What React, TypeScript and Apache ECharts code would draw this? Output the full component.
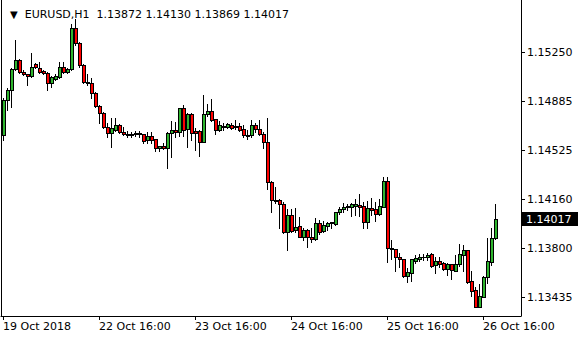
import React, { useEffect, useRef } from "react";
import * as echarts from "echarts";

const symbol = "EURUSD";
const period = "H1";

const opens = [
  1.14637, 1.14896, 1.1497, 1.15126, 1.15192, 1.15104, 1.15089, 1.15074, 1.15163, 1.15133,
  1.15111, 1.15096, 1.15022, 1.15052, 1.15067, 1.15141, 1.15104, 1.15126, 1.15429, 1.15318,
  1.15155, 1.1503, 1.15022, 1.14948, 1.14852, 1.148, 1.14697, 1.14652, 1.14674, 1.14711,
  1.1466, 1.14645, 1.14641, 1.14645, 1.14652, 1.14645, 1.146, 1.1463, 1.14605, 1.14539,
  1.14556, 1.14539, 1.1465, 1.14674, 1.14662, 1.14835, 1.1468, 1.14793, 1.14669, 1.14669,
  1.14588, 1.14791, 1.14815, 1.14754, 1.14674, 1.14704, 1.14698, 1.14711, 1.14704, 1.14704,
  1.1468, 1.14637, 1.14637, 1.14711, 1.1468, 1.14645, 1.14588, 1.14292, 1.14156, 1.14156,
  1.14127, 1.13922, 1.14045, 1.13934, 1.13964, 1.13885, 1.13934, 1.13885, 1.13865, 1.13984,
  1.13929, 1.13964, 1.13984, 1.13979, 1.14066, 1.14088, 1.14102, 1.14102, 1.14114, 1.14119,
  1.14112, 1.13996, 1.14095, 1.14088, 1.14051, 1.14107, 1.14297, 1.13799, 1.13792, 1.13732,
  1.13718, 1.13594, 1.13619, 1.13707, 1.13722, 1.13735, 1.13737, 1.13755, 1.13673, 1.13705,
  1.13688, 1.13648, 1.13681, 1.13633, 1.13681, 1.13749, 1.13786, 1.13557, 1.1349, 1.13367,
  1.13441, 1.13584, 1.137, 1.13872,
];
const highs = [
  1.14911, 1.14985, 1.15133, 1.1534, 1.152, 1.15118, 1.15092, 1.15244, 1.1517, 1.15178,
  1.15118, 1.15104, 1.15074, 1.15089, 1.15178, 1.15178, 1.15133, 1.15459, 1.15496, 1.15322,
  1.15163, 1.15089, 1.15059, 1.14952, 1.14859, 1.14808, 1.14726, 1.14763, 1.14763, 1.14715,
  1.14697, 1.14667, 1.1466, 1.14667, 1.14667, 1.14648, 1.14662, 1.14662, 1.14608, 1.14556,
  1.14576, 1.14656, 1.14741, 1.14736, 1.14837, 1.14859, 1.14802, 1.14802, 1.14689, 1.14674,
  1.14933, 1.14867, 1.14902, 1.14756, 1.14743, 1.14728, 1.14728, 1.14728, 1.14748, 1.14728,
  1.14711, 1.14674, 1.14748, 1.14726, 1.14748, 1.14662, 1.14761, 1.14297, 1.1425, 1.14164,
  1.14142, 1.1409, 1.1409, 1.14099, 1.14033, 1.13949, 1.13942, 1.13947, 1.14021, 1.14008,
  1.14003, 1.13994, 1.13996, 1.14068, 1.14107, 1.14136, 1.14124, 1.14136, 1.14164, 1.14198,
  1.14144, 1.14149, 1.14169, 1.14144, 1.14164, 1.14329, 1.14324, 1.1386, 1.13794, 1.13762,
  1.1372, 1.13651, 1.1372, 1.13749, 1.13757, 1.13757, 1.13762, 1.13762, 1.13737, 1.13737,
  1.13698, 1.13692, 1.13683, 1.13749, 1.13831, 1.13826, 1.13788, 1.13631, 1.1351, 1.13535,
  1.13594, 1.13873, 1.13947, 1.1413,
];
const lows = [
  1.146, 1.14822, 1.14845, 1.15118, 1.15096, 1.15081, 1.15007, 1.15067, 1.15133, 1.15096,
  1.15089, 1.1497, 1.14993, 1.15044, 1.15059, 1.15096, 1.15096, 1.15118, 1.15303, 1.15141,
  1.15022, 1.15007, 1.14911, 1.14845, 1.14726, 1.14689, 1.14623, 1.14549, 1.14667, 1.14652,
  1.14637, 1.14623, 1.14623, 1.1463, 1.14623, 1.1458, 1.14576, 1.1458, 1.14521, 1.14521,
  1.14532, 1.14391, 1.14472, 1.14625, 1.1463, 1.1463, 1.14551, 1.146, 1.14526, 1.14482,
  1.14585, 1.14778, 1.14743, 1.14645, 1.14669, 1.14674, 1.14687, 1.1468, 1.1468, 1.14669,
  1.14625, 1.14606, 1.14625, 1.14662, 1.14637, 1.14543, 1.14236, 1.1407, 1.14136, 1.13947,
  1.13914, 1.13786, 1.13922, 1.13922, 1.1388, 1.1386, 1.13806, 1.13848, 1.1386, 1.13902,
  1.13922, 1.13934, 1.13947, 1.13971, 1.14051, 1.14066, 1.14082, 1.1404, 1.14045, 1.14038,
  1.13951, 1.13947, 1.14045, 1.14003, 1.14045, 1.14105, 1.137, 1.1372, 1.13633, 1.13663,
  1.13584, 1.13552, 1.13559, 1.13688, 1.13705, 1.13712, 1.13712, 1.13663, 1.13618, 1.13658,
  1.13638, 1.13601, 1.13572, 1.1363, 1.13668, 1.13633, 1.13545, 1.13446, 1.13362, 1.13364,
  1.13436, 1.13545, 1.13675, 1.13869,
];
const closes = [
  1.14896, 1.1497, 1.15126, 1.15192, 1.15104, 1.15089, 1.15074, 1.15141, 1.15141, 1.15104,
  1.15096, 1.15022, 1.15067, 1.15074, 1.15141, 1.15104, 1.15126, 1.15429, 1.15318, 1.15155,
  1.1503, 1.15022, 1.14948, 1.14852, 1.148, 1.14697, 1.14652, 1.14689, 1.14711, 1.1466,
  1.14645, 1.14637, 1.14637, 1.14652, 1.14645, 1.14595, 1.1463, 1.146, 1.14539, 1.14556,
  1.14539, 1.1465, 1.14674, 1.14662, 1.14835, 1.14674, 1.14793, 1.14654, 1.14654, 1.14588,
  1.14793, 1.14815, 1.14748, 1.14674, 1.14711, 1.14694, 1.14716, 1.14691, 1.14694, 1.14674,
  1.14637, 1.14632, 1.14711, 1.1468, 1.14645, 1.14588, 1.14292, 1.14156, 1.14151, 1.14127,
  1.13922, 1.14045, 1.13929, 1.13954, 1.13885, 1.13934, 1.1388, 1.13865, 1.13984, 1.13917,
  1.13971, 1.13988, 1.1399, 1.14066, 1.14088, 1.14107, 1.14112, 1.14127, 1.14124, 1.14107,
  1.13996, 1.14095, 1.14082, 1.14051, 1.14112, 1.14297, 1.13799, 1.13792, 1.13732, 1.13718,
  1.13594, 1.13624, 1.13718, 1.1373, 1.13737, 1.13738, 1.13749, 1.13668, 1.13705, 1.13683,
  1.13643, 1.13683, 1.13638, 1.13681, 1.13755, 1.13786, 1.13552, 1.13485, 1.13367, 1.13446,
  1.13589, 1.13705, 1.13873, 1.14017,
];

const priceTicks = [1.13435, 1.138, 1.1416, 1.14525, 1.14885, 1.1525];
const firstLabel = "19 Oct 2018";
const tradingDays = [19, 22, 23, 24, 25, 26];
const firstHour = 16;
const totalSlots = 130;
const yMin = 1.13298;
const yMax = 1.15636;

const bullColor = "#2fb52f";
const bearColor = "#ff0000";

function pad2(n: number) {
  return n < 10 ? "0" + n : String(n);
}

function buildCategories(): string[] {
  const out: string[] = [];
  for (let d = 0; d < tradingDays.length && out.length < totalSlots; d++) {
    const startH = d === 0 ? firstHour : 0;
    for (let h = startH; h < 24 && out.length < totalSlots; h++) {
      out.push(tradingDays[d] + " Oct " + pad2(h) + ":00");
    }
  }
  let extra = 27;
  let h = 0;
  while (out.length < totalSlots) {
    out.push(extra + " Oct " + pad2(h) + ":00");
    h++;
    if (h === 24) { h = 0; extra++; }
  }
  return out;
}

function px(x: number, y: number, w: number, hgt: number, fill: string) {
  return {
    type: "rect",
    shape: { x, y, width: w, height: hgt },
    style: { fill, stroke: "none", lineWidth: 0 },
  };
}

export default function App() {
  const ref = useRef<HTMLDivElement>(null);
  useEffect(() => {
    document.body.style.margin = "0";
    if (!ref.current) return;
    const chart = echarts.init(ref.current, null, { renderer: "svg" });
    const categories = buildCategories();
    const bars = opens.map((o, i) => [i, o, closes[i], lows[i], highs[i]]);
    const last = opens.length - 1;
    const font = "DejaVu Sans";
    const showTick = (i: number, v: string) => i === 0 || v.endsWith(" 16:00");

    const renderCandle = (params: any, api: any) => {
      const i = api.value(0);
      const o = api.value(1);
      const c = api.value(2);
      const l = api.value(3);
      const h = api.value(4);
      const po = api.coord([i, o]);
      const cx = Math.floor(po[0]);
      const yo = Math.round(po[1]);
      const yc = Math.round(api.coord([i, c])[1]);
      const yl = Math.round(api.coord([i, l])[1]);
      const yh = Math.round(api.coord([i, h])[1]);
      const top = Math.min(yo, yc);
      const bot = Math.max(yo, yc);
      const bodyH = bot - top + 1;
      const children: any[] = [];
      if (top - yh > 0) children.push(px(cx, yh, 1, top - yh, "#000"));
      if (yl - bot > 0) children.push(px(cx, bot + 1, 1, yl - bot, "#000"));
      if (bodyH <= 2) {
        children.push(px(cx - 1, top, 4, bodyH, "#000"));
      } else {
        children.push(px(cx - 1, top, 1, bodyH, "#000"));
        children.push(px(cx + 2, top, 1, bodyH, "#000"));
        children.push(px(cx, top, 2, 1, "#000"));
        children.push(px(cx, bot, 2, 1, "#000"));
        children.push(px(cx, top + 1, 2, bodyH - 2, c >= o ? bullColor : bearColor));
      }
      return { type: "group", children };
    };

    chart.setOption({
      animation: false,
      backgroundColor: "#ffffff",
      title: {
        left: 5,
        top: 4,
        text:
          "{tri|\u25BC}  " + symbol + "," + period + "  " +
          [opens[last], highs[last], lows[last], closes[last]].map((v) => v.toFixed(5)).join(" "),
        textStyle: {
          fontFamily: font,
          fontSize: 11,
          fontWeight: "normal",
          color: "#000",
          rich: { tri: { fontSize: 10, color: "#000", fontFamily: font } },
        },
      },
      grid: { left: 1, right: 59, top: 0, bottom: 24 },
      xAxis: {
        type: "category",
        data: categories,
        boundaryGap: true,
        axisLine: { show: true, lineStyle: { color: "#000", width: 1 } },
        axisTick: {
          show: true,
          alignWithLabel: true,
          interval: showTick,
          length: 4,
          lineStyle: { color: "#000" },
        },
        axisLabel: {
          interval: showTick,
          formatter: (v: string, i: number) => (i === 0 ? firstLabel : v),
          align: "left",
          margin: 5,
          fontFamily: font,
          fontSize: 11,
          color: "#000",
        },
        splitLine: { show: false },
      },
      yAxis: [
        {
          type: "value",
          position: "right",
          min: yMin,
          max: yMax,
          scale: true,
          axisLine: { show: true, lineStyle: { color: "#000", width: 1 } },
          axisTick: {
            show: true,
            length: 4,
            customValues: priceTicks,
            lineStyle: { color: "#000" },
          },
          axisLabel: {
            customValues: priceTicks,
            formatter: (v: number) => v.toFixed(5),
            margin: 6,
            fontFamily: font,
            fontSize: 11,
            color: "#000",
          },
          splitLine: { show: false },
        },
        {
          type: "value",
          position: "left",
          min: yMin,
          max: yMax,
          scale: true,
          axisLine: { show: true, lineStyle: { color: "#000", width: 1 } },
          axisTick: { show: false },
          axisLabel: { show: false },
          splitLine: { show: false },
        },
      ],
      series: [
        {
          type: "custom",
          name: symbol,
          yAxisIndex: 0,
          data: bars,
          encode: { x: 0, y: [1, 2, 3, 4] },
          renderItem: renderCandle,
        },
      ],
    });

    const py = chart.convertToPixel({ yAxisIndex: 0 }, closes[last]) as number;
    const pxr = chart.convertToPixel({ xAxisIndex: 0 }, categories[categories.length - 1]) as number;
    const rightEdge = pxr + 2;
    chart.setOption({
      graphic: [
        {
          type: "rect",
          x: Math.round(rightEdge),
          y: Math.round(py) - 7,
          shape: { width: 57, height: 14 },
          style: { fill: "#000" },
          z: 100,
        },
        {
          type: "text",
          x: Math.round(rightEdge) + 5,
          y: Math.round(py),
          style: {
            text: closes[last].toFixed(5),
            fill: "#fff",
            font: "11px 'DejaVu Sans'",
            textVerticalAlign: "middle",
            verticalAlign: "middle",
          },
          z: 101,
        },
      ],
    });
    return () => chart.dispose();
  }, []);
  return <div ref={ref} style={{ width: 580, height: 340 }} />;
}
